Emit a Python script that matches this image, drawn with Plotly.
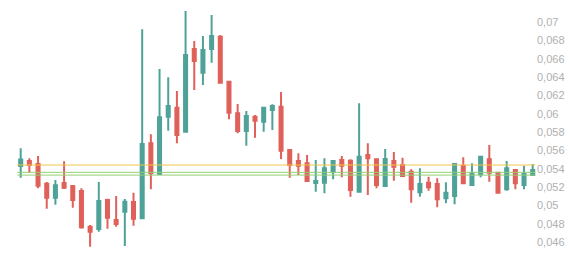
import plotly.graph_objects as go

opens = [0.0543, 0.05484, 0.05451, 0.05236, 0.05083, 0.05244, 0.05211, 0.05156, 0.04767, 0.04742,
         0.05058, 0.0484, 0.04931, 0.05036, 0.04859, 0.05677, 0.05342, 0.05967, 0.06065, 0.05803,
         0.06705, 0.06447, 0.06705, 0.0684, 0.06349, 0.06004, 0.05811, 0.05967, 0.05912, 0.0604,
         0.06076, 0.05604, 0.05484, 0.05459, 0.05244, 0.05247, 0.05367, 0.05495, 0.05487, 0.05149,
         0.05549, 0.05502, 0.05211, 0.05484, 0.0544, 0.05367, 0.05142, 0.05247, 0.05233, 0.05077,
         0.05102, 0.05432, 0.05222, 0.05339, 0.05502, 0.05356, 0.05175, 0.05385, 0.05222, 0.0533]
highs = [0.05622, 0.05513, 0.05538, 0.05255, 0.05276, 0.0548, 0.05211, 0.05186, 0.04785, 0.05255,
         0.05072, 0.05102, 0.05069, 0.05138, 0.0692, 0.05775, 0.06487, 0.06397, 0.06247, 0.0712,
         0.06793, 0.06847, 0.07076, 0.06858, 0.06356, 0.06105, 0.06029, 0.05985, 0.06076, 0.06102,
         0.06236, 0.05611, 0.05568, 0.05549, 0.05495, 0.05513, 0.05495, 0.05538, 0.05502, 0.06113,
         0.05677, 0.05509, 0.05615, 0.05582, 0.0552, 0.05393, 0.05404, 0.05312, 0.05295, 0.05251,
         0.05459, 0.05524, 0.05459, 0.05538, 0.05658, 0.05367, 0.05484, 0.05393, 0.05432, 0.05451]
lows = [0.05302, 0.05356, 0.05186, 0.04963, 0.05007, 0.05178, 0.04974, 0.04745, 0.04549, 0.04712,
        0.04745, 0.04767, 0.04556, 0.04778, 0.04859, 0.05175, 0.0533, 0.05814, 0.05677, 0.05797,
        0.06258, 0.06313, 0.06556, 0.06331, 0.05939, 0.05786, 0.05651, 0.05738, 0.05803, 0.05822,
        0.05505, 0.05302, 0.0533, 0.05258, 0.05149, 0.05131, 0.05284, 0.05306, 0.05094, 0.05138,
        0.05113, 0.05186, 0.05203, 0.05269, 0.05312, 0.05029, 0.05094, 0.0516, 0.04979, 0.05022,
        0.05011, 0.05233, 0.05211, 0.05306, 0.05258, 0.05131, 0.0516, 0.05175, 0.05175, 0.0532]
closes = [0.0550, 0.0544, 0.05214, 0.05083, 0.05219, 0.05192, 0.05058, 0.0476, 0.04712, 0.05047,
          0.04865, 0.04796, 0.0504, 0.04854, 0.05669, 0.0535, 0.0596, 0.06084, 0.05767, 0.0664,
          0.06575, 0.06695, 0.06847, 0.06338, 0.06011, 0.05811, 0.05975, 0.05923, 0.06065, 0.06084,
          0.05596, 0.0544, 0.05432, 0.05266, 0.05266, 0.05404, 0.05484, 0.05432, 0.05167, 0.05531,
          0.05513, 0.05222, 0.05505, 0.05421, 0.0532, 0.05175, 0.05233, 0.05197, 0.05066, 0.05138,
          0.05451, 0.0524, 0.0535, 0.05531, 0.05356, 0.05138, 0.05404, 0.0524, 0.05342, 0.05385]

level_values = [0.0544, 0.0536, 0.0533]
level_colors = ["#efc64a", "#94d174", "#94d174"]

tick_values = [0.046, 0.048, 0.05, 0.052, 0.054, 0.056, 0.058, 0.06, 0.062, 0.064, 0.066, 0.068, 0.07]

n = len(opens)
xs = list(range(n))

fig = go.Figure()

fig.add_trace(go.Candlestick(
    x=xs, open=opens, high=highs, low=lows, close=closes,
    increasing=dict(line=dict(color="#4fa298", width=2), fillcolor="#4fa298"),
    decreasing=dict(line=dict(color="#e0605a", width=2), fillcolor="#e0605a"),
    whiskerwidth=0, showlegend=False))

for lv, lc in zip(level_values, level_colors):
    fig.add_trace(go.Scatter(
        x=[xs[0] - 0.4, xs[-1] + 0.3], y=[lv, lv], mode="lines",
        line=dict(color=lc, width=1), hoverinfo="skip", showlegend=False))

fig.update_layout(
    width=584, height=258,
    margin=dict(l=0, r=48, t=0, b=0),
    paper_bgcolor="white", plot_bgcolor="white",
    separators=", ",
    boxgap=0.5,
    showlegend=False,
    font=dict(family="Liberation Sans, Arial, sans-serif", size=11, color="#b0b0b0"),
    xaxis=dict(visible=False, range=[-2.385, 59.38], rangeslider=dict(visible=False),
               showgrid=False, zeroline=False),
    yaxis=dict(side="right", range=[0.044255, 0.0724], tickvals=tick_values,
               showgrid=False, zeroline=False, showline=False, ticks="",
               tickfont=dict(size=11, color="#b0b0b0")),
)

fig.write_html("out.html")
